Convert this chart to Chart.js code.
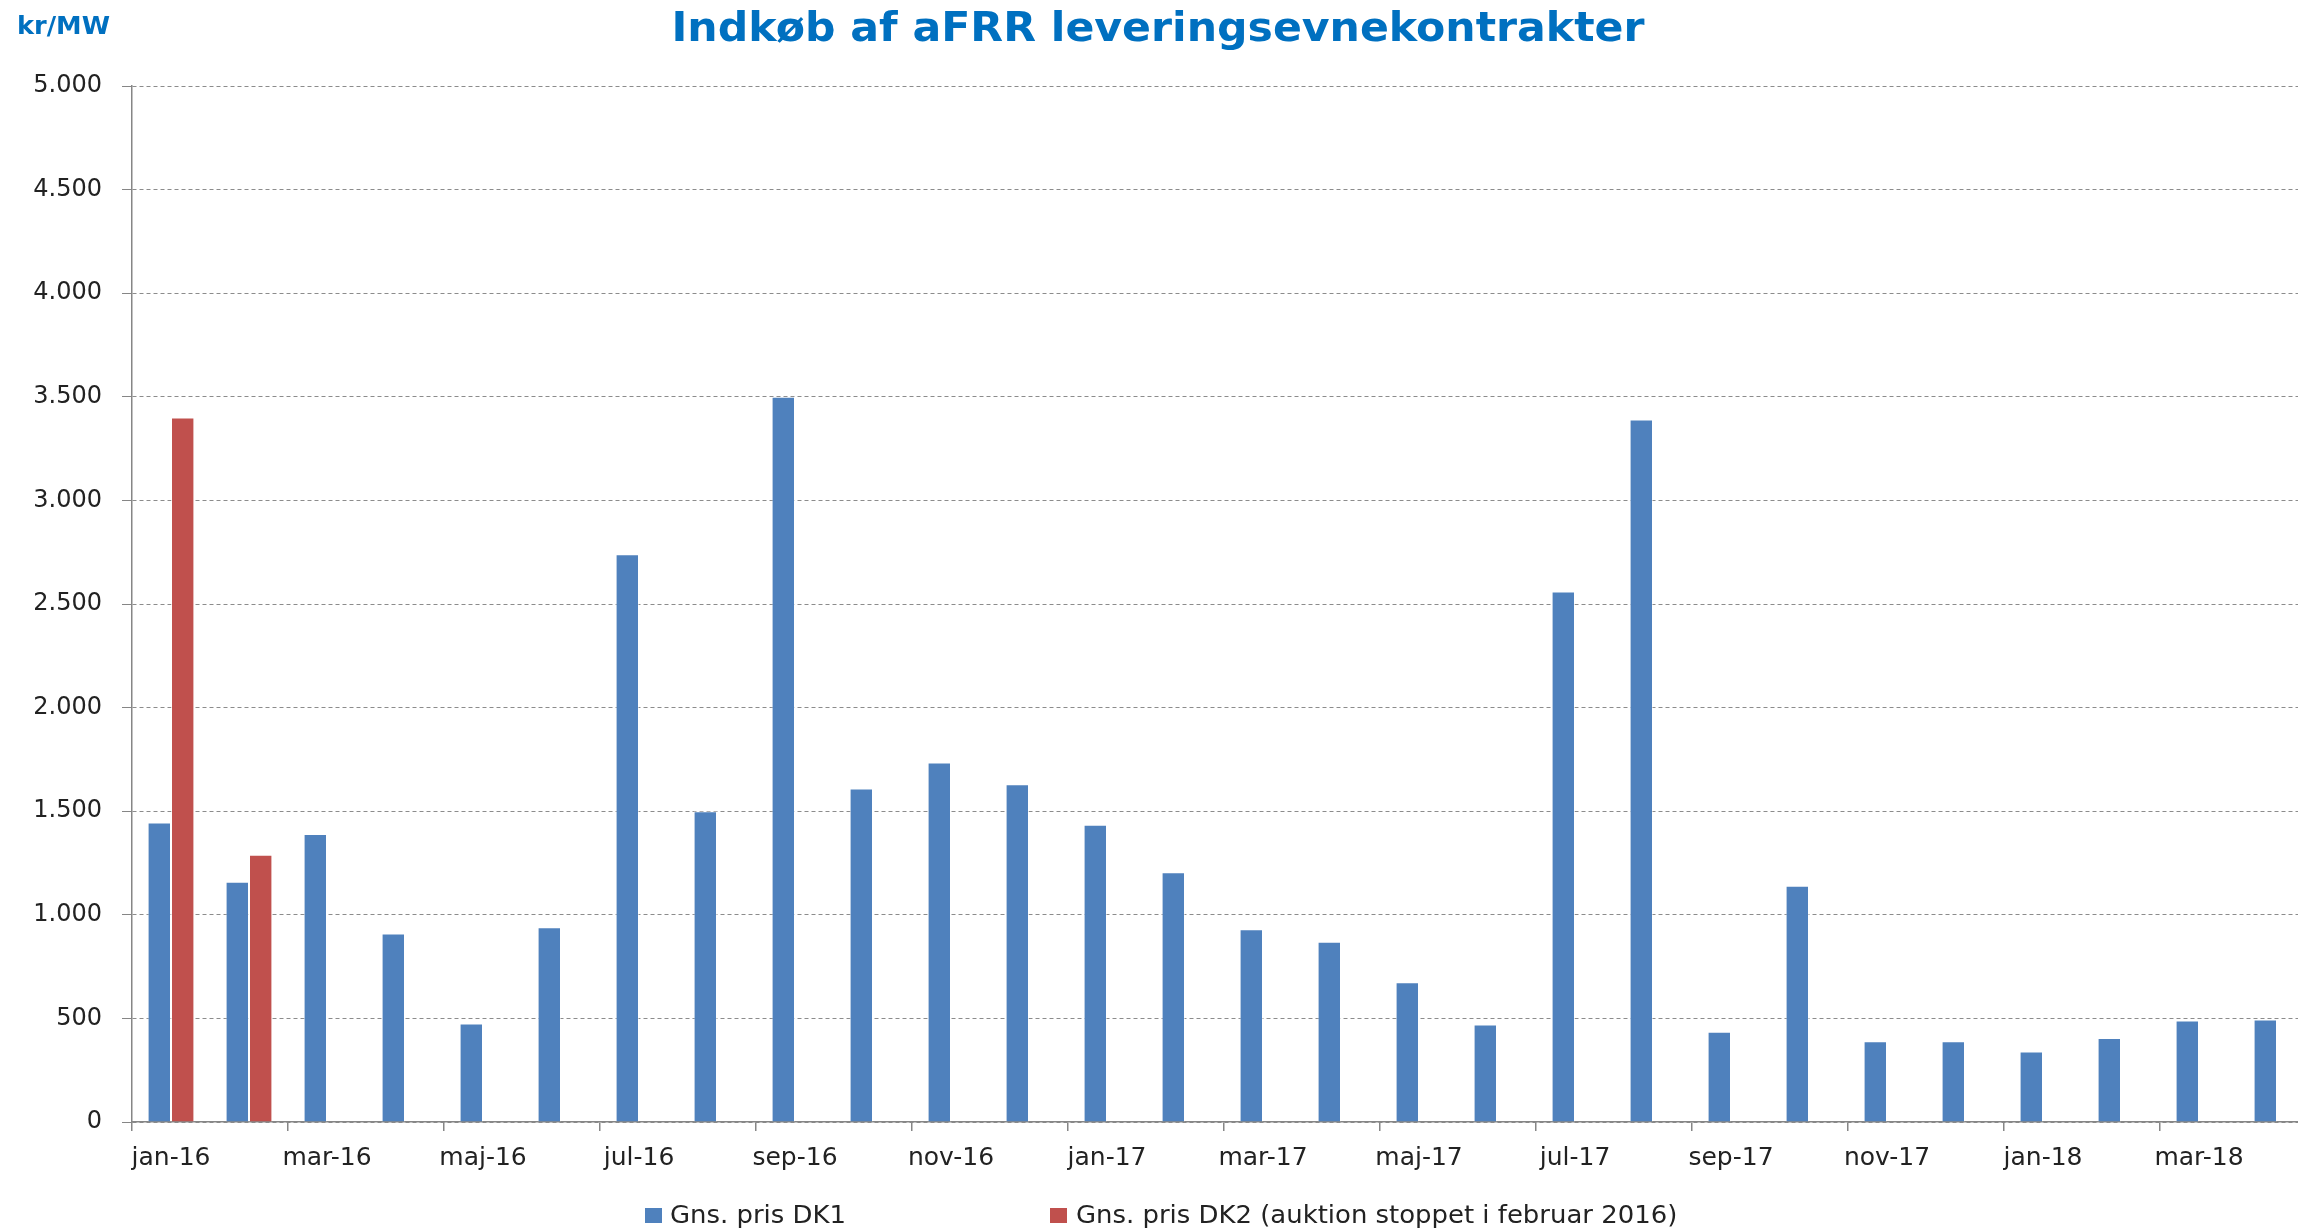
<!DOCTYPE html>
<html>
<head>
<meta charset="utf-8">
<script src="https://cdn.jsdelivr.net/npm/chart.js@4.4.0/dist/chart.umd.min.js"></script>
<style>
  html, body { margin: 0; padding: 0; background: #fff; overflow: hidden; }
  canvas { display: block; }
</style>
</head>
<body>
<canvas id="chart" width="2316" height="1231"></canvas>
<script>
// months jan-16 .. apr-18
const months = [
  'jan-16', 'feb-16', 'mar-16', 'apr-16', 'maj-16', 'jun-16',
  'jul-16', 'aug-16', 'sep-16', 'okt-16', 'nov-16', 'dec-16',
  'jan-17', 'feb-17', 'mar-17', 'apr-17', 'maj-17', 'jun-17',
  'jul-17', 'aug-17', 'sep-17', 'okt-17', 'nov-17', 'dec-17',
  'jan-18', 'feb-18', 'mar-18', 'apr-18'
]

const dk1 = [
  1445, 1160, 1390, 910, 475, 940, 2740, 1500, 3500, 1610, 1735, 1630,
  1435, 1205, 930, 870, 675, 470, 2560, 3390, 435, 1140, 390, 390,
  340, 405, 490, 495
]

// DK2 auction stopped in Feb 2016
const dk2 = [3400, 1290]

const yMin = 0
const yMax = 5000
const yStep = 500

const seriesNames = ['Gns. pris DK1', 'Gns. pris DK2 (auktion stoppet i februar 2016)']
const seriesColors = ['#4F81BD', '#C0504D']

const titleText = 'Indkøb af aFRR leveringsevnekontrakter'
const unitText = 'kr/MW'

const axisGray = '#868686'
const font = '"DejaVu Sans", sans-serif'

function thousands(v) {
  return String(v).replace(/\B(?=(\d{3})+(?!\d))/g, '.')
}

// draws text scaled horizontally to a given width
function wideText(ctx, text, x, y, css, color, width, align) {
  ctx.save()
  ctx.font = css
  ctx.fillStyle = color
  ctx.textBaseline = 'alphabetic'
  ctx.textAlign = 'left'
  const w = ctx.measureText(text).width
  const sx = width / w
  let left = x
  if (align === 'center') left = x - width / 2
  ctx.translate(left, y)
  ctx.scale(sx, 1)
  ctx.fillText(text, 0, 0)
  ctx.restore()
}

const decorations = {
  id: 'decorations',
  afterDraw(chart) {
    const ctx = chart.ctx
    wideText(ctx, titleText, 1158, 41, 'bold 41px ' + font, '#0070C0', 973, 'center')
    wideText(ctx, unitText, 17, 34, 'bold 24px ' + font, '#0070C0', 93, 'left')

    // legend
    const items = [
      { x: 645, tx: 670 },
      { x: 1050, tx: 1076 }
    ]
    chart.data.datasets.forEach((ds, i) => {
      const it = items[i]
      ctx.save()
      ctx.fillStyle = ds.backgroundColor
      ctx.fillRect(it.x, 1208, 17, 15)
      ctx.font = '24px ' + font
      const w = ctx.measureText(ds.label).width
      ctx.restore()
      wideText(ctx, ds.label, it.tx, 1223, '24px ' + font, '#222', w * 1.08, 'left')
    })
  }
}

new Chart(document.getElementById('chart'), {
  type: 'bar',
  data: {
    labels: months,
    datasets: [
      {
        label: seriesNames[0],
        data: dk1,
        backgroundColor: seriesColors[0],
        borderColor: 'rgba(255,255,255,0.5)',
        borderWidth: 1
      },
      {
        label: seriesNames[1],
        data: dk2,
        backgroundColor: seriesColors[1],
        borderColor: 'rgba(255,255,255,0.5)',
        borderWidth: 1
      }
    ]
  },
  options: {
    responsive: false,
    animation: false,
    devicePixelRatio: 1,
    layout: {
      padding: { top: 86, left: 0, right: 0, bottom: 49 }
    },
    datasets: {
      bar: { categoryPercentage: 0.6, barPercentage: 1 }
    },
    plugins: {
      legend: { display: false },
      title: { display: false },
      tooltip: { enabled: false }
    },
    scales: {
      x: {
        afterFit(scale) { scale.height = 60 },
        grid: {
          offset: true,
          drawOnChartArea: false,
          tickLength: 9,
          lineWidth: 1.5,
          color: c => (c.index % 2 === 0 ? axisGray : 'rgba(0,0,0,0)')
        },
        border: { display: true, color: axisGray, width: 1.5 },
        ticks: {
          autoSkip: false,
          maxRotation: 0,
          minRotation: 0,
          padding: 12,
          color: '#222',
          font: { family: font, size: 25 },
          callback: (v, i) => (i % 2 === 0 ? months[i] : '')
        }
      },
      y: {
        min: yMin,
        max: yMax,
        afterFit(scale) { scale.width = 132 },
        grid: {
          color: '#8C8C8C',
          lineWidth: 1,
          tickLength: 10,
          tickColor: axisGray,
          tickBorderDash: []
        },
        border: { display: true, color: axisGray, width: 1.5, dash: [4, 3] },
        ticks: {
          stepSize: yStep,
          padding: 20,
          color: '#222',
          font: { family: font, size: 24 },
          callback: v => thousands(v)
        }
      }
    }
  },
  plugins: [decorations]
})
</script>
</body>
</html>
